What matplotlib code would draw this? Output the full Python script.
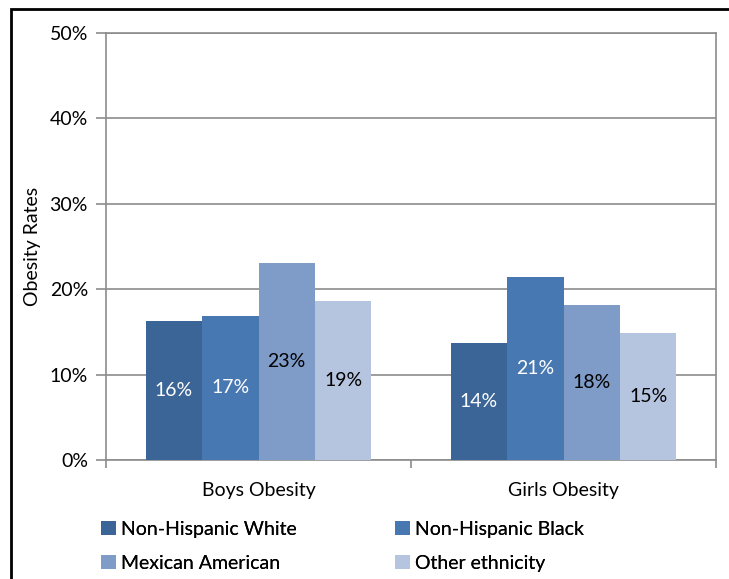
import numpy as np
import matplotlib.pyplot as plt
from matplotlib.patches import Rectangle

plt.rcParams['font.family'] = ['Lato', 'DejaVu Sans']

groups = ['Boys Obesity', 'Girls Obesity']
series = ['Non-Hispanic White', 'Non-Hispanic Black', 'Mexican American', 'Other ethnicity']
rates = {
    'Non-Hispanic White': [16.3, 13.7],
    'Non-Hispanic Black': [16.9, 21.4],
    'Mexican American': [23.1, 18.1],
    'Other ethnicity': [18.6, 14.9],
}
colors = ['#3B6596', '#4878B2', '#7F9CC9', '#B5C4DF']
label_colors = ['white', 'white', 'black', 'black']
fs = 14

fig = plt.figure(figsize=(7.29, 5.79), dpi=100)
ax = fig.add_axes([106 / 729, 1 - 460 / 579, 610 / 729, 427 / 579])

x = np.arange(len(groups))
width = 0.185
handles = []
for i, name in enumerate(series):
    pos = x + (i - 1.5) * width
    bars = ax.bar(pos, rates[name], width, color=colors[i], label=name, zorder=3)
    handles.append(bars)
    for xp, v in zip(pos, rates[name]):
        ax.text(xp, v / 2, f'{round(v):d}%', ha='center', va='center',
                color=label_colors[i], fontsize=fs, zorder=4)

ax.set_xlim(-0.5, 1.5)
ax.set_ylim(0, 50)
ax.set_yticks(np.arange(0, 51, 10))
ax.set_yticklabels([f'{t}%' for t in range(0, 51, 10)], fontsize=fs)
ax.yaxis.grid(True, color='#8c8c8c', linewidth=1.2, zorder=0)
ax.set_xticks(x)
ax.set_xticklabels(groups, fontsize=fs)
ax.tick_params(axis='x', length=0, pad=16)
ax.set_xticks([-0.5, 0.5, 1.5], minor=True)
ax.tick_params(axis='x', which='minor', length=6, color='#8c8c8c', width=1.2)
ax.tick_params(axis='y', length=7, color='#8c8c8c', width=1.2, pad=6)
for s in ax.spines.values():
    s.set_color('#8c8c8c')
    s.set_linewidth(1.2)
ax.set_ylabel('Obesity Rates', fontsize=fs, labelpad=6)

# legend in two columns: White/Mexican on the left, Black/Other on the right
leg_kw = dict(loc='upper left', frameon=False, fontsize=fs, handlelength=0.75,
              handleheight=0.75, handletextpad=0.3, labelspacing=0.85,
              borderaxespad=0, borderpad=0)
for cols, x0 in (([0, 2], 101), ([1, 3], 395)):
    leg = fig.legend([handles[k] for k in cols], [series[k] for k in cols],
                     bbox_to_anchor=(x0 / 729, 1 - 521 / 579), **leg_kw)
    fig.add_artist(leg)

# outer frame of the chart area
fig.patches.append(Rectangle((11 / 729, -0.05), 1.0, 1 - 9 / 579 + 0.05,
                             transform=fig.transFigure, fill=False,
                             edgecolor='black', linewidth=2))

fig.savefig('out.png', dpi=100)
